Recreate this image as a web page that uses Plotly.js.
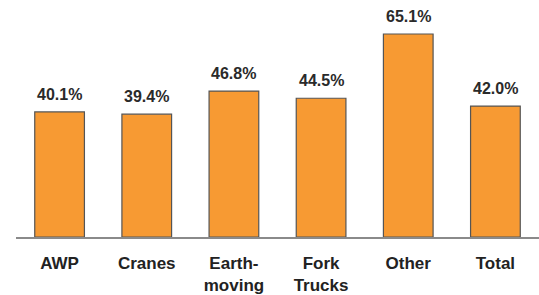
<!DOCTYPE html>
<html>
<head>
<meta charset="utf-8">
<script src="https://cdn.plot.ly/plotly-3.0.1.min.js"></script>
<style>html,body{margin:0;padding:0;background:#fff;}#chart{width:539px;height:295px;}</style>
</head>
<body>
<div id="chart"></div>
<script>
const categories = ["AWP", "Cranes", "Earth-moving", "Fork Trucks", "Other", "Total"];
const tickLabels = ["AWP", "Cranes", "Earth-<br>moving", "Fork<br>Trucks", "Other", "Total"];
const values = [40.1, 39.4, 46.8, 44.5, 65.1, 42.0];

const trace = {
  type: "bar",
  x: categories,
  y: values,
  marker: { color: "#F79A33", line: { color: "#555555", width: 1.2 } },
  hoverinfo: "none"
};

const annotations = categories.map((c, i) => ({
  x: c, y: values[i], xref: "x", yref: "y",
  text: values[i].toFixed(1) + "%",
  showarrow: false, yanchor: "bottom", yshift: 7,
  font: { family: "Liberation Sans, Arial, sans-serif", size: 16, color: "#2a2a2a", weight: "bold" }
}));

const layout = {
  width: 539, height: 295,
  margin: { l: 16, r: 0, t: 0, b: 58, pad: 0 },
  paper_bgcolor: "#ffffff", plot_bgcolor: "#ffffff",
  showlegend: false,
  bargap: 0.43,
  xaxis: {
    type: "category",
    tickvals: categories, ticktext: tickLabels,
    showline: true, linecolor: "#8a8a8a", linewidth: 1.5,
    ticks: "", showgrid: false, zeroline: false,
    tickfont: { family: "Liberation Sans, Arial, sans-serif", size: 17, color: "#222222", weight: "bold" },
    ticklabelstandoff: 10
  },
  yaxis: { range: [0, 76], visible: false, showgrid: false, zeroline: false },
  annotations: annotations
};

Plotly.newPlot("chart", [trace], layout, { staticPlot: true, displayModeBar: false });
</script>
</body>
</html>
